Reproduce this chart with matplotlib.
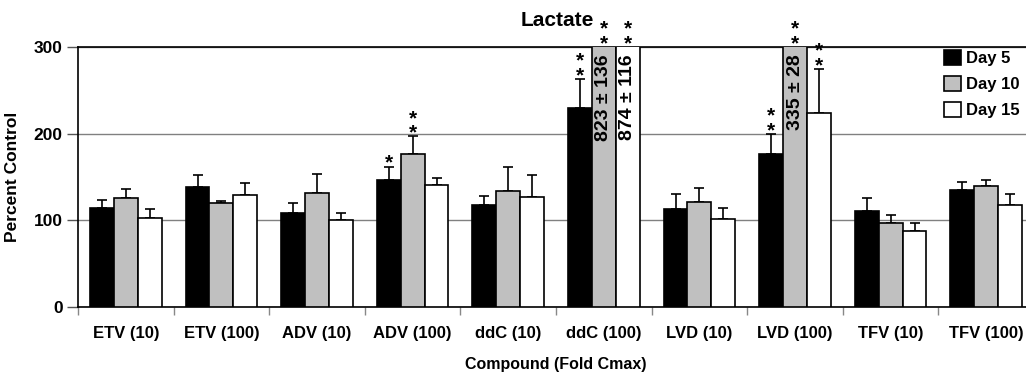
import numpy as np
import matplotlib
matplotlib.use("Agg")
import matplotlib.pyplot as plt

plt.rcParams["font.family"] = ["Liberation Sans", "DejaVu Sans"]

# data (percent of control, mean and upper SD)
compounds = ["ETV (10)", "ETV (100)", "ADV (10)", "ADV (100)", "ddC (10)",
             "ddC (100)", "LVD (10)", "LVD (100)", "TFV (10)", "TFV (100)"]
series_names = ["Day 5", "Day 10", "Day 15"]

day5 = [114, 138, 108, 147, 118, 230, 113, 177, 111, 135]
day10 = [126, 120, 131, 177, 134, 823, 121, 335, 97, 140]
day15 = [103, 129, 100, 141, 127, 874, 102, 224, 88, 118]

day5_err = [10, 14, 12, 15, 10, 33, 17, 23, 15, 9]
day10_err = [10, 2, 23, 20, 28, 136, 16, 28, 9, 6]
day15_err = [10, 14, 8, 8, 25, 116, 12, 51, 9, 12]

# number of significance stars per bar
day5_sig = [0, 0, 0, 1, 0, 2, 0, 2, 0, 0]
day10_sig = [0, 0, 0, 2, 0, 2, 0, 2, 0, 0]
day15_sig = [0, 0, 0, 0, 0, 2, 0, 2, 0, 0]

colors = ["black", "#c0c0c0", "white"]
y_max = 300

fig = plt.figure(figsize=(10.26, 3.76), dpi=100)
ax = fig.add_axes([78 / 1026, 1 - 307 / 376, 956 / 1026, 260 / 376])

x = np.arange(len(compounds))
width = 0.25
all_vals = [day5, day10, day15]
all_errs = [day5_err, day10_err, day15_err]
all_sig = [day5_sig, day10_sig, day15_sig]

for k in range(3):
    xs = x + (k - 1) * width
    vals = np.array(all_vals[k])
    errs = np.array(all_errs[k])
    ax.bar(xs, vals, width, color=colors[k], edgecolor="black",
           linewidth=1.2, label=series_names[k], zorder=3)
    ax.errorbar(xs, vals, yerr=[np.zeros_like(errs), errs], fmt="none",
                ecolor="black", elinewidth=1.2, capsize=3.3, capthick=1.2,
                zorder=2)
    for xi, v, e, n in zip(xs, vals, errs, all_sig[k]):
        top = min(v + e, y_max)
        for j in range(n):
            ax.annotate("*", xy=(xi, top), xytext=(0, -4.5 + 10.5 * j),
                        textcoords="offset points", ha="center", va="bottom",
                        fontsize=15, fontweight="bold", annotation_clip=False)
        if v > y_max:
            ax.text(xi, 292, f"{v} \u00b1 {e}", rotation=90, ha="center",
                    va="top", fontsize=14, fontweight="bold", zorder=4)

ax.set_ylim(0, y_max)
ax.set_xlim(-0.5, len(compounds) - 0.5)
ax.set_yticks([0, 100, 200, 300])
ax.set_yticklabels(["0", "100", "200", "300"], fontsize=12.5, fontweight="bold")
ax.tick_params(axis="y", length=8, width=1, color="#555555", pad=3)
ax.yaxis.grid(True, color="#808080", linewidth=1)
ax.set_axisbelow(True)

ax.set_xticks(x)
ax.set_xticklabels(compounds, fontsize=12, fontweight="bold")
ax.tick_params(axis="x", which="major", length=0, pad=14)
ax.set_xticks(np.arange(len(compounds) + 1) - 0.5, minor=True)
ax.tick_params(axis="x", which="minor", length=6, width=1, color="#888888")

for s in ["left", "top", "bottom"]:
    ax.spines[s].set_linewidth(1.2)
    ax.spines[s].set_color("black")
ax.spines["right"].set_visible(False)

ax.set_ylabel("Percent Control", fontsize=12.5, fontweight="bold")
ax.yaxis.set_label_coords((20 - 78) / 956, 0.5)
ax.set_xlabel("Compound (Fold Cmax)", fontsize=11.5, fontweight="bold", labelpad=11)

fig.text(557 / 1026, 1 - 20 / 376, "Lactate", ha="center", va="center",
         fontsize=15, fontweight="bold")

fig.legend(loc="upper left", bbox_to_anchor=(944 / 1026, 1 - 50 / 376),
           frameon=False, prop={"size": 12, "weight": "bold"},
           handlelength=1.0, handleheight=1.0, handletextpad=0.35,
           labelspacing=0.6, borderaxespad=0, borderpad=0)

fig.savefig("out.png", dpi=100)
